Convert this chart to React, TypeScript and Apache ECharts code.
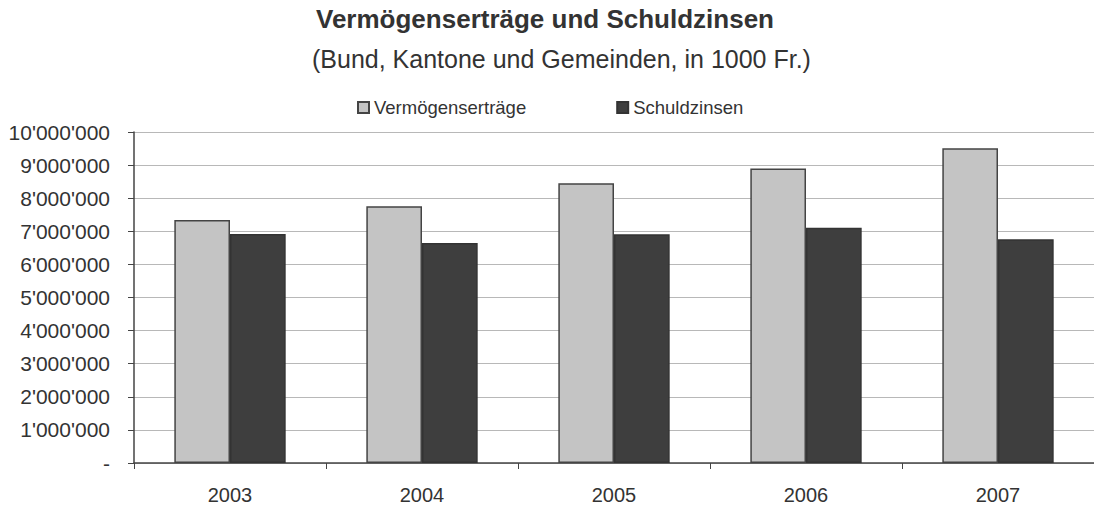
import React, { useEffect, useRef } from "react";
import * as echarts from "echarts";

const years = ["2003", "2004", "2005", "2006", "2007"];
const vermoegensertraege = [7340000, 7760000, 8450000, 8900000, 9510000];
const schuldzinsen = [6920000, 6650000, 6910000, 7110000, 6760000];
const seriesNames = ["Vermögenserträge", "Schuldzinsen"];
const titleText = "Vermögenserträge und Schuldzinsen";
const subtitleText = "(Bund, Kantone und Gemeinden, in 1000 Fr.)";

const fmt = (v: number) => {
  if (v === 0) return "-";
  return String(v).replace(/\B(?=(\d{3})+(?!\d))/g, "'");
};

export default function App() {
  const ref = useRef<HTMLDivElement>(null);
  useEffect(() => {
    if (!ref.current) return;
    const chart = echarts.init(ref.current, undefined, { renderer: "svg" });
    const font = "'Liberation Sans', Arial, sans-serif";
    chart.setOption({
      animation: false,
      backgroundColor: "#fff",
      textStyle: { fontFamily: font },
      graphic: [
        {
          type: "text",
          left: 316,
          top: 6,
          style: { text: titleText, font: `bold 26px ${font}`, fill: "#333" },
        },
        {
          type: "text",
          left: 312,
          top: 46,
          style: { text: subtitleText, font: `25px ${font}`, fill: "#333" },
        },
      ],
      legend: {
        top: 93,
        left: 352,
        itemWidth: 11,
        itemHeight: 11,
        itemGap: 90,
        icon: "rect",
        textStyle: { fontSize: 18.5, color: "#333", fontFamily: font },
        data: seriesNames,
      },
      grid: { left: 134, width: 966, top: 132, bottom: 42, containLabel: false },
      xAxis: {
        type: "category",
        data: years,
        axisLine: { lineStyle: { color: "#444", width: 1.5 } },
        axisTick: { show: true, length: 6, lineStyle: { color: "#444" } },
        axisLabel: { fontSize: 20, color: "#333", margin: 22 },
      },
      yAxis: {
        type: "value",
        min: 0,
        max: 10000000,
        interval: 1000000,
        axisLine: { show: true, lineStyle: { color: "#444", width: 1.5 } },
        axisTick: { show: true, length: 6, lineStyle: { color: "#444" } },
        axisLabel: { fontSize: 21, color: "#333", margin: 24, formatter: fmt },
        splitLine: { lineStyle: { color: "#b8b8b8", width: 1 } },
      },
      series: [
        {
          name: seriesNames[0],
          type: "bar",
          data: vermoegensertraege,
          barGap: "0%",
          barCategoryGap: "42%",
          itemStyle: { color: "#c4c4c4", borderColor: "#444", borderWidth: 1.5 },
        },
        {
          name: seriesNames[1],
          type: "bar",
          data: schuldzinsen,
          barGap: "0%",
          barCategoryGap: "42%",
          itemStyle: { color: "#3e3e3e", borderColor: "#333", borderWidth: 1.5 },
        },
      ],
    });
    return () => chart.dispose();
  }, []);
  return (
    <div
      ref={ref}
      style={{ position: "absolute", left: 0, top: 0, width: 1094, height: 505 }}
    />
  );
}
